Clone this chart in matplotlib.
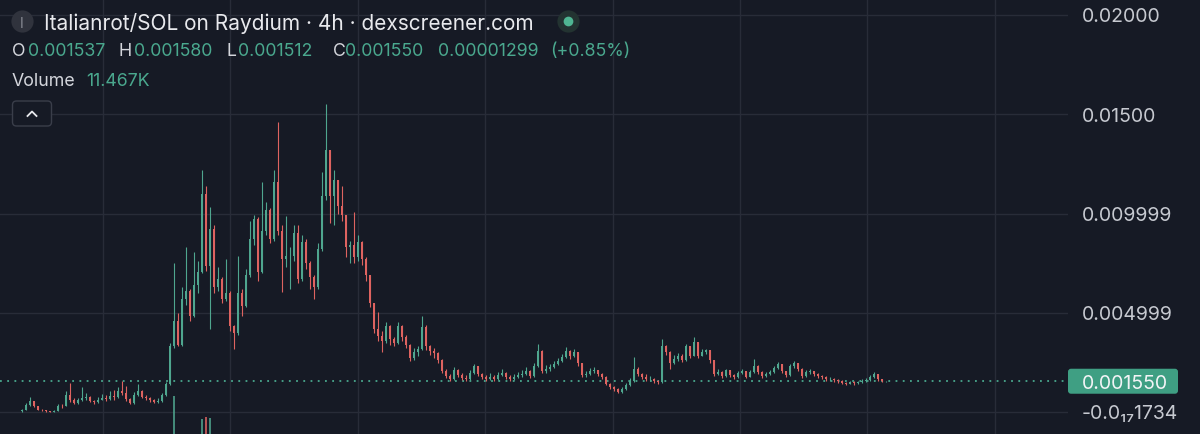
import numpy as np
import matplotlib.pyplot as plt
from matplotlib.patches import FancyBboxPatch
from matplotlib.lines import Line2D
from matplotlib.transforms import IdentityTransform

plt.rcParams['font.family'] = ['Inter', 'DejaVu Sans']

# 4h candles, prices in units of 0.001 SOL
SCALE = 1e-3
first_open_k = 0.05

close_k = [
    0.10, 0.35, 0.55, 0.30, 0.12, 0.08, 0.05, 0.02, 0.04, 0.30,
    0.28, 0.85, 0.60, 0.45, 0.60, 0.70, 0.78, 0.55, 0.48, 0.62,
    0.70, 0.65, 0.82, 0.75, 1.05, 0.95, 0.65, 0.45, 0.85, 1.05,
    0.78, 0.70, 0.60, 0.52, 0.55, 0.85, 1.40, 3.30, 4.60, 3.40,
    5.70, 6.10, 4.85, 6.40, 7.05, 11.00, 7.35, 9.20, 6.30, 6.70,
    5.70, 6.00, 4.35, 4.00, 6.00, 5.35, 6.90, 8.70, 9.70, 7.05,
    9.10, 10.20, 8.70, 11.60, 9.10, 7.70, 7.85, 7.85, 9.00, 6.70,
    8.56, 7.50, 6.80, 6.30, 8.20, 10.90, 13.20, 10.90, 11.70, 10.40,
    9.90, 8.30, 8.40, 7.80, 8.56, 7.70, 6.90, 5.50, 4.20, 3.83,
    3.60, 4.33, 3.70, 3.50, 4.33, 3.80, 3.40, 2.70, 3.00, 3.15,
    4.30, 3.30, 3.05, 2.95, 2.60, 2.05, 1.80, 1.66, 2.10, 1.85,
    1.72, 1.66, 1.95, 2.30, 1.90, 1.75, 1.66, 1.76, 1.66, 1.85,
    1.95, 1.76, 1.66, 1.76, 1.85, 1.91, 2.05, 1.80, 2.30, 3.07,
    2.05, 2.17, 2.25, 2.42, 2.57, 2.75, 3.07, 2.82, 3.00, 2.45,
    1.85, 1.91, 2.05, 2.10, 1.91, 1.76, 1.41, 1.26, 1.16, 1.01,
    1.16, 1.36, 1.56, 2.17, 1.91, 1.76, 1.66, 1.66, 1.56, 1.51,
    3.32, 3.00, 2.45, 2.67, 2.82, 2.60, 3.30, 2.82, 3.52, 2.82,
    3.00, 3.12, 2.60, 1.91, 2.01, 1.80, 2.10, 1.85, 1.76, 1.95,
    2.05, 1.76, 2.01, 2.32, 2.01, 1.80, 1.91, 2.01, 2.20, 2.42,
    2.05, 1.85, 2.30, 2.45, 2.17, 1.80, 2.01, 2.05, 1.91, 1.80,
    1.76, 1.66, 1.66, 1.61, 1.56, 1.46, 1.41, 1.51, 1.46, 1.51,
    1.56, 1.61, 1.76, 1.91, 1.66, 1.537, 1.550,
]

high_k = [
    0.15, 0.45, 0.75, 0.55, 0.32, 0.14, 0.10, 0.06, 0.08, 0.38,
    0.40, 1.05, 1.45, 0.70, 0.72, 1.25, 0.95, 0.80, 0.60, 0.75,
    0.90, 0.85, 1.05, 1.10, 1.25, 1.55, 1.30, 0.70, 1.00, 1.40,
    1.10, 0.85, 0.75, 0.65, 0.70, 0.95, 1.50, 3.50, 7.50, 5.00,
    6.30, 8.30, 6.20, 8.05, 7.60, 12.20, 11.40, 10.35, 9.40, 7.30,
    6.80, 7.70, 6.10, 4.40, 7.85, 6.20, 7.20, 9.60, 9.90, 9.80,
    11.60, 10.60, 10.30, 12.20, 14.60, 9.40, 9.85, 8.30, 9.40, 9.40,
    8.90, 8.70, 7.60, 6.90, 8.50, 12.10, 15.50, 13.00, 12.20, 11.60,
    11.40, 9.90, 8.60, 10.10, 8.90, 8.60, 7.80, 6.90, 5.40, 5.03,
    4.10, 4.55, 4.40, 3.80, 4.55, 4.40, 3.90, 3.45, 3.20, 3.30,
    4.83, 4.40, 3.40, 3.20, 3.00, 2.65, 2.15, 1.90, 2.27, 2.15,
    1.95, 1.85, 2.10, 2.42, 2.30, 1.95, 1.85, 1.95, 1.85, 2.00,
    2.17, 2.00, 1.85, 1.90, 2.00, 2.10, 2.27, 2.10, 2.45, 3.42,
    3.10, 2.35, 2.40, 2.55, 2.70, 2.90, 3.27, 3.10, 3.15, 3.00,
    2.45, 2.05, 2.20, 2.25, 2.10, 1.95, 1.80, 1.45, 1.30, 1.20,
    1.25, 1.45, 1.70, 2.77, 2.25, 1.95, 1.91, 1.80, 1.70, 1.62,
    3.68, 3.40, 3.05, 2.85, 2.95, 2.90, 3.42, 3.35, 3.77, 3.55,
    3.15, 3.17, 3.10, 2.60, 2.15, 2.05, 2.17, 2.10, 1.90, 2.05,
    2.15, 2.05, 2.10, 2.67, 2.35, 2.05, 2.00, 2.10, 2.30, 2.52,
    2.40, 2.05, 2.40, 2.57, 2.45, 2.20, 2.10, 2.15, 2.05, 1.95,
    1.85, 1.80, 1.75, 1.72, 1.66, 1.60, 1.52, 1.58, 1.56, 1.58,
    1.66, 1.71, 1.85, 2.01, 1.91, 1.68, 1.580,
]

low_k = [
    0.02, 0.08, 0.30, 0.25, 0.08, 0.04, 0.02, 0.00, 0.00, 0.03,
    0.22, 0.28, 0.50, 0.40, 0.42, 0.55, 0.60, 0.48, 0.40, 0.45,
    0.58, 0.55, 0.62, 0.62, 0.70, 0.85, 0.55, 0.38, 0.42, 0.80,
    0.70, 0.60, 0.52, 0.45, 0.45, 0.50, 0.80, 1.35, 3.20, 3.30,
    3.35, 5.40, 4.60, 4.80, 6.00, 7.00, 7.10, 4.20, 6.00, 6.10,
    5.50, 5.60, 4.10, 3.15, 3.90, 4.85, 5.30, 6.80, 8.40, 6.60,
    7.00, 8.90, 8.50, 8.60, 8.90, 6.04, 7.30, 6.20, 7.60, 6.50,
    6.60, 7.20, 6.20, 5.70, 6.20, 8.10, 10.70, 9.50, 9.40, 10.00,
    9.60, 7.80, 7.50, 7.50, 7.60, 7.40, 6.60, 5.30, 4.00, 3.60,
    3.00, 3.50, 3.40, 3.30, 3.45, 3.60, 3.20, 2.55, 2.60, 2.80,
    3.10, 3.10, 2.85, 2.70, 2.45, 1.95, 1.70, 1.55, 1.60, 1.75,
    1.62, 1.55, 1.60, 1.90, 1.80, 1.65, 1.55, 1.62, 1.58, 1.60,
    1.80, 1.65, 1.56, 1.62, 1.70, 1.78, 1.85, 1.72, 1.78, 2.25,
    1.95, 1.98, 2.05, 2.20, 2.35, 2.50, 2.70, 2.65, 2.75, 2.30,
    1.75, 1.76, 1.85, 1.95, 1.80, 1.65, 1.35, 1.18, 1.08, 0.95,
    0.95, 1.10, 1.30, 1.50, 1.80, 1.65, 1.58, 1.55, 1.45, 1.40,
    1.48, 2.85, 2.17, 2.40, 2.55, 2.50, 2.55, 2.70, 2.80, 2.70,
    2.80, 2.90, 2.45, 1.80, 1.85, 1.72, 1.78, 1.75, 1.68, 1.72,
    1.90, 1.70, 1.75, 1.98, 1.90, 1.70, 1.75, 1.85, 1.95, 2.15,
    1.95, 1.75, 1.80, 2.20, 2.05, 1.72, 1.78, 1.90, 1.82, 1.70,
    1.66, 1.58, 1.56, 1.52, 1.48, 1.40, 1.36, 1.40, 1.38, 1.42,
    1.46, 1.50, 1.58, 1.70, 1.58, 1.50, 1.512,
]

# the few volume bars that rise into view (candle index, volume in K)
vol_idx = [38, 45, 46, 47]
vol_k = [950, 380, 420, 400]

y_ticks = [0.02, 0.015, 0.01, 0.005, 0.0]
y_tick_labels = ['0.02000', '0.01500', '0.009999', '0.004999', '-0.0\u2081\u20871734']

BG = '#161a25'
GRID = '#282c38'
UP = '#4fa68f'
DOWN = '#de6360'
TEAL = '#4aa88e'
TXT = '#d4d6dc'
AX_TXT = '#c6c9d0'

close = np.array(close_k) * SCALE
high = np.array(high_k) * SCALE
low = np.array(low_k) * SCALE
open_ = np.concatenate([[first_open_k * SCALE], close[:-1]])
high = np.maximum(high, np.maximum(open_, close))
low = np.minimum(low, np.minimum(open_, close))
idx = np.arange(len(close))
up = close >= open_
colors = np.where(up, UP, DOWN)

W, H = 1200, 435
fig = plt.figure(figsize=(W / 100, H / 100), dpi=100, facecolor=BG)
ax = fig.add_axes([0, 0, 1068 / W, 1])
ax.set_facecolor(BG)
for s in ax.spines.values():
    s.set_visible(False)
ax.set_xticks([])
ax.set_yticks([])

px = 0.02 / 397
ylo, yhi = -22 * px, 0.02 + 16 * px
ax.set_ylim(ylo, yhi)
ax.set_xlim(-5.5, 261.5)

for v in y_ticks:
    ax.axhline(v, color=GRID, lw=1, zorder=0)
for k in range(8):
    ax.axvline(20.25 + 31.85 * k, color=GRID, lw=1, zorder=0)

# volume overlay
vax = ax.twinx()
vax.set_ylim(0, 11000)
vax.axis('off')
vax.bar(vol_idx, vol_k, width=0.4, color=[colors[i] for i in vol_idx], alpha=0.8)

# candles
ax.vlines(idx, low, high, colors=colors, lw=0.8, zorder=2)
body_lo = np.minimum(open_, close)
body_h = np.maximum(np.abs(close - open_), 0.4 * px)
ax.bar(idx, body_h, bottom=body_lo, width=0.7, color=colors, lw=0, zorder=3)

# last price line
last = close[-1]
ax.axhline(last, color=TEAL, lw=1.3, ls=(0, (1, 3)), zorder=1)


def ypix(v):
    # price -> pixels from the bottom of the figure
    return (v - ylo) / (yhi - ylo) * H


# right axis labels
for v, lab in zip(y_ticks, y_tick_labels):
    fig.text(1082 / W, (ypix(v) - 1.5) / H, lab, color=AX_TXT, fontsize=14,
             va='center', ha='left')

yb = ypix(last)
box = FancyBboxPatch((1068, yb - 12.5), 110, 25,
                     boxstyle='round,pad=0,rounding_size=3',
                     fc='#3f9f83', ec='none', transform=IdentityTransform())
fig.add_artist(box)
fig.text(1082 / W, (yb - 1.5) / H, f'{last:.6f}', color='#f2f4f6', fontsize=14,
         va='center', ha='left', zorder=5)


# header
def ftext(x, y, s, **kw):
    fig.text(x / W, 1 - y / H, s, va='center', ha='left', **kw)


fig.add_artist(Line2D([22 / W], [1 - 22 / H], marker='o', ms=16, mfc='#30333d',
                      mec='none', transform=fig.transFigure))
ftext(19.5, 23.5, 'I', color='#8a8d96', fontsize=10)
ftext(44, 24, 'Italianrot/SOL on Raydium \u00b7 4h \u00b7 dexscreener.com',
      color='#e8e9ed', fontsize=15)
fig.add_artist(Line2D([568 / W], [1 - 22 / H], marker='o', ms=16, mfc='#233331',
                      mec='none', transform=fig.transFigure))
fig.add_artist(Line2D([568 / W], [1 - 22 / H], marker='o', ms=7, mfc='#4fb592',
                      mec='none', transform=fig.transFigure))

parts = [(12, 'O', TXT), (28, f'{open_[-1]:.6f}', TEAL),
         (119, 'H', TXT), (134, f'{high[-1]:.6f}', TEAL),
         (227, 'L', TXT), (238, f'{low[-1]:.6f}', TEAL),
         (333, 'C', TXT), (345, f'{close[-1]:.6f}', TEAL),
         (438, '0.00001299', TEAL), (550, '(+0.85%)', TEAL)]
for x, s, c in parts:
    ftext(x, 52, s, color=c, fontsize=12.8)
ftext(12, 82, 'Volume', color=TXT, fontsize=12.8)
ftext(86, 82, '11.467K', color=TEAL, fontsize=12.8)

btn = FancyBboxPatch((12.5, H - 127), 39, 25, boxstyle='round,pad=0,rounding_size=4',
                     fc=BG, ec='#3a3e4a', lw=1, transform=IdentityTransform())
fig.add_artist(btn)
fig.add_artist(Line2D([27.5, 32, 36.5], [H - 117, H - 112.5, H - 117], color='#e8e9ed',
                      lw=1.3, transform=IdentityTransform()))

fig.savefig('out.png', dpi=100, facecolor=BG)
